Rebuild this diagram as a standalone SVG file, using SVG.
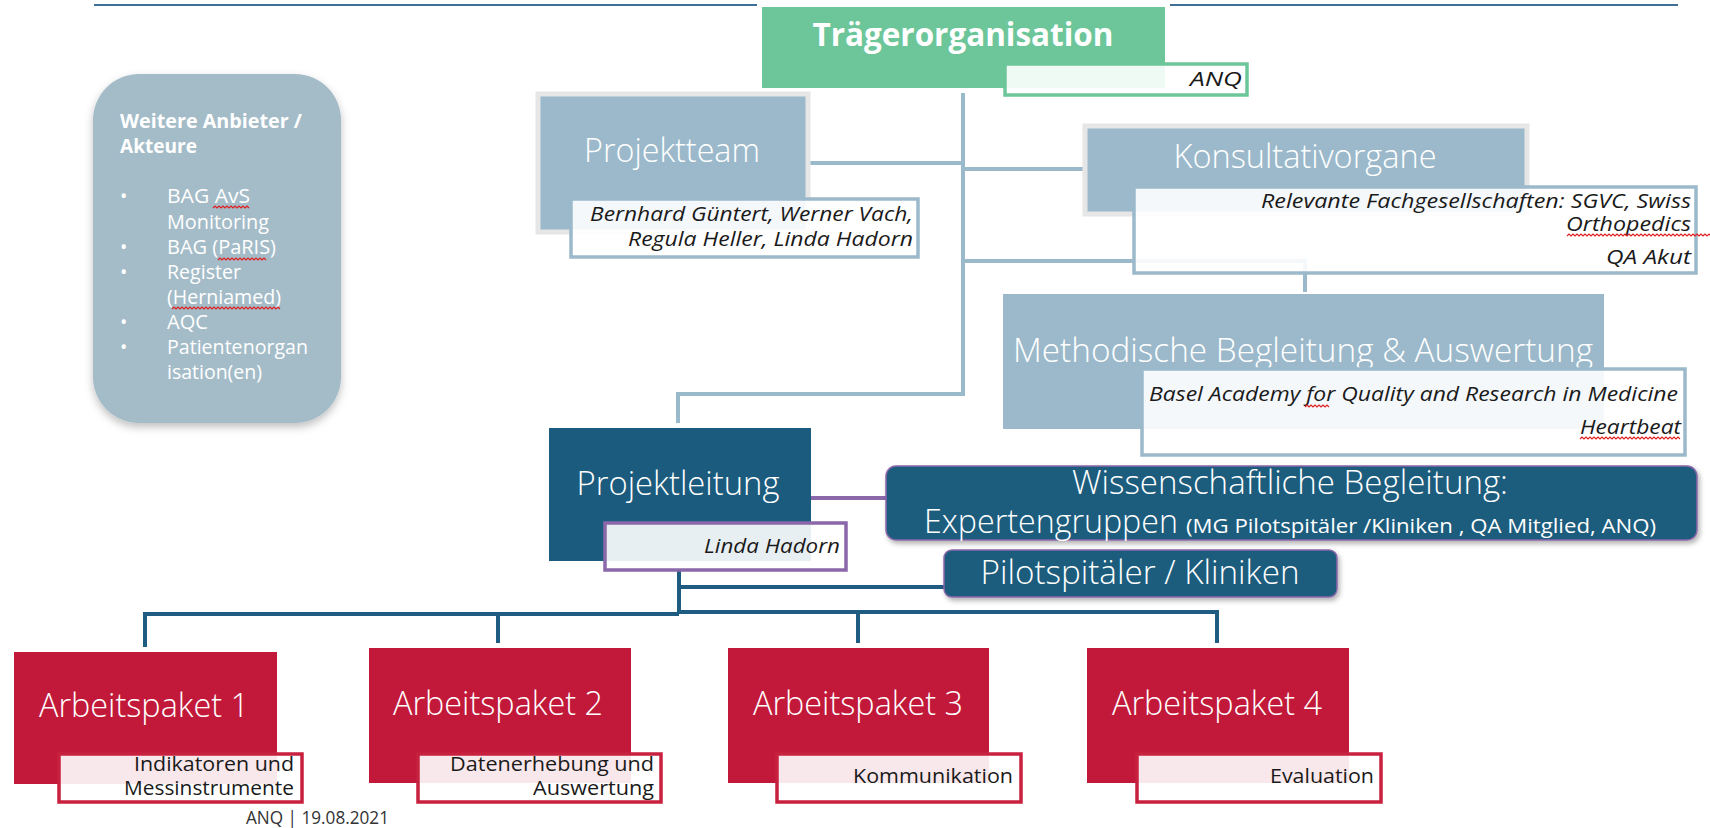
<svg xmlns="http://www.w3.org/2000/svg" width="1710" height="828" viewBox="0 0 1710 828">
<defs>
<style>
.t{font-family:"Open Sans","Noto Sans","Liberation Sans",sans-serif;}
.big{font-family:"Open Sans","Noto Sans","Liberation Sans",sans-serif;font-size:33px;font-weight:300;fill:#ffffff;}
.it{font-family:"Open Sans","Noto Sans","Liberation Sans",sans-serif;font-size:20px;font-style:italic;fill:#1a1a1a;text-anchor:end;}
.sm{font-family:"Open Sans","Noto Sans","Liberation Sans",sans-serif;font-size:20px;fill:#1a1a1a;text-anchor:end;}
.wt{font-family:"Open Sans","Noto Sans","Liberation Sans",sans-serif;font-size:19.5px;fill:#ffffff;}
.lc{fill:none;stroke:#9ab9cb;stroke-width:4;}
.dc{fill:none;stroke:#1e5c82;stroke-width:4;}
.pc{fill:none;stroke:#8a68aa;stroke-width:4;}
.sub{fill:#ffffff;fill-opacity:0.9;stroke-width:3.5;}
.ap{fill:#c2193a;}
.aps{fill:#ffffff;fill-opacity:0.9;stroke:#c8203f;stroke-width:3.5;}
.sq{fill:none;stroke:#e02020;stroke-width:1.2;}
</style>
<filter id="sh" x="-10%" y="-10%" width="120%" height="130%">
<feDropShadow dx="0" dy="4" stdDeviation="4" flood-color="#000000" flood-opacity="0.25"/>
</filter>
<filter id="sh2" x="-5%" y="-10%" width="110%" height="130%">
<feDropShadow dx="2" dy="3" stdDeviation="2.5" flood-color="#000000" flood-opacity="0.3"/>
</filter>
</defs>
<rect width="1710" height="828" fill="#ffffff"/>

<g id="toplines">
<line x1="94" y1="5" x2="757" y2="5" stroke="#3f6f94" stroke-width="2"/>
<line x1="1170" y1="5" x2="1678" y2="5" stroke="#3f6f94" stroke-width="2"/>
</g>

<g id="connectors">
<path class="lc" d="M963 93 V394 H678 V423"/>
<path class="lc" d="M809 163 H963"/>
<path class="lc" d="M963 169 H1083"/>
<path class="lc" d="M963 261 H1305 V292"/>
<path class="pc" d="M811 498 H886"/>
<path class="dc" d="M679 570 V614"/>
<path class="dc" d="M679 587 H944"/>
<path class="dc" d="M145 647 V614 H679"/>
<path class="dc" d="M679 612 H1217 V643"/>
<path class="dc" d="M498 643 V612"/>
<path class="dc" d="M858 643 V612"/>
</g>

<g id="weitere">
<rect x="93" y="74" width="248" height="349" rx="46" ry="46" fill="#a4bcc8" filter="url(#sh)"/>
<text class="t" x="120" y="128" font-size="19" font-weight="700" fill="#ffffff" textLength="182" lengthAdjust="spacingAndGlyphs">Weitere Anbieter /</text>
<text class="t" x="120" y="153" font-size="19" font-weight="700" fill="#ffffff" textLength="77" lengthAdjust="spacingAndGlyphs">Akteure</text>
<g class="wt">
<text x="120" y="203">•</text><text x="167" y="203" textLength="83" lengthAdjust="spacingAndGlyphs">BAG AvS</text>
<text x="167" y="229" textLength="102" lengthAdjust="spacingAndGlyphs">Monitoring</text>
<text x="120" y="254">•</text><text x="167" y="254" textLength="109" lengthAdjust="spacingAndGlyphs">BAG (PaRIS)</text>
<text x="120" y="279">•</text><text x="167" y="279" textLength="74" lengthAdjust="spacingAndGlyphs">Register</text>
<text x="167" y="304" textLength="114" lengthAdjust="spacingAndGlyphs">(Herniamed)</text>
<text x="120" y="329">•</text><text x="167" y="329" textLength="41" lengthAdjust="spacingAndGlyphs">AQC</text>
<text x="120" y="354">•</text><text x="167" y="354" textLength="141" lengthAdjust="spacingAndGlyphs">Patientenorgan</text>
<text x="167" y="379" textLength="95" lengthAdjust="spacingAndGlyphs">isation(en)</text>
</g>
<path class="sq" d="M213 208 l2 -2 l2 2 l2 -2 l2 2 l2 -2 l2 2 l2 -2 l2 2 l2 -2 l2 2 l2 -2 l2 2 l2 -2 l2 2 l2 -2 l2 2 l2 -2 l2 2"/>
<path class="sq" d="M218 260 l2 -2 l2 2 l2 -2 l2 2 l2 -2 l2 2 l2 -2 l2 2 l2 -2 l2 2 l2 -2 l2 2 l2 -2 l2 2 l2 -2 l2 2 l2 -2 l2 2 l2 -2 l2 2 l2 -2 l2 2 l2 -2 l2 2"/>
<path class="sq" d="M172 309 l2 -2 l2 2 l2 -2 l2 2 l2 -2 l2 2 l2 -2 l2 2 l2 -2 l2 2 l2 -2 l2 2 l2 -2 l2 2 l2 -2 l2 2 l2 -2 l2 2 l2 -2 l2 2 l2 -2 l2 2 l2 -2 l2 2 l2 -2 l2 2 l2 -2 l2 2 l2 -2 l2 2 l2 -2 l2 2 l2 -2 l2 2 l2 -2 l2 2 l2 -2 l2 2 l2 -2 l2 2 l2 -2 l2 2 l2 -2 l2 2 l2 -2 l2 2 l2 -2 l2 2 l2 -2 l2 2 l2 -2 l2 2 l2 -2 l2 2"/>
</g>

<g id="traeger">
<rect x="762" y="7" width="403" height="81" fill="#6cc69a"/>
<text class="t" x="963" y="46" font-size="32" font-weight="700" fill="#ffffff" text-anchor="middle" textLength="301" lengthAdjust="spacingAndGlyphs">Trägerorganisation</text>
<rect class="sub" x="1005" y="64" width="242" height="31" stroke="#6cc69a"/>
<text class="it" x="1242" y="86" textLength="52" lengthAdjust="spacingAndGlyphs">ANQ</text>
</g>

<g id="projektteam">
<rect x="538" y="94" width="270" height="138" fill="#9bb9ca" stroke="#e6e6e6" stroke-width="5"/>
<text class="big" x="672" y="162" text-anchor="middle" textLength="176" lengthAdjust="spacingAndGlyphs">Projektteam</text>
<rect class="sub" x="571" y="199" width="347" height="58" stroke="#9bb9ca"/>
<text class="it" x="913" y="221" textLength="323" lengthAdjust="spacingAndGlyphs">Bernhard Güntert, Werner Vach,</text>
<text class="it" x="913" y="246" textLength="285" lengthAdjust="spacingAndGlyphs">Regula Heller, Linda Hadorn</text>
</g>

<g id="konsultativ">
<rect x="1085" y="126" width="442" height="88" fill="#9bb9ca" stroke="#e6e6e6" stroke-width="5"/>
<text class="big" x="1305" y="168" text-anchor="middle" textLength="263" lengthAdjust="spacingAndGlyphs">Konsultativorgane</text>
<rect class="sub" x="1134" y="187" width="562" height="86" stroke="#9bb9ca"/>
<text class="it" x="1691" y="208" textLength="430" lengthAdjust="spacingAndGlyphs">Relevante Fachgesellschaften: SGVC, Swiss</text>
<text class="it" x="1691" y="231" textLength="125" lengthAdjust="spacingAndGlyphs">Orthopedics</text>
<text class="it" x="1691" y="264" textLength="85" lengthAdjust="spacingAndGlyphs">QA Akut</text>
<path class="sq" d="M1567 236 l2 -2 l2 2 l2 -2 l2 2 l2 -2 l2 2 l2 -2 l2 2 l2 -2 l2 2 l2 -2 l2 2 l2 -2 l2 2 l2 -2 l2 2 l2 -2 l2 2 l2 -2 l2 2 l2 -2 l2 2 l2 -2 l2 2 l2 -2 l2 2 l2 -2 l2 2 l2 -2 l2 2 l2 -2 l2 2 l2 -2 l2 2 l2 -2 l2 2 l2 -2 l2 2 l2 -2 l2 2 l2 -2 l2 2 l2 -2 l2 2 l2 -2 l2 2 l2 -2 l2 2 l2 -2 l2 2 l2 -2 l2 2 l2 -2 l2 2 l2 -2 l2 2 l2 -2 l2 2 l2 -2 l2 2 l2 -2 l2 2 l2 -2 l2 2 l2 -2 l2 2 l2 -2 l2 2 l2 -2 l2 2 l2 -2 l2 2"/>
</g>

<g id="methodisch">
<rect x="1003" y="294" width="601" height="135" fill="#9bb9ca"/>
<text class="big" x="1013" y="362" textLength="580" lengthAdjust="spacingAndGlyphs">Methodische Begleitung &amp; Auswertung</text>
<rect class="sub" x="1142" y="369" width="543" height="86" stroke="#9bb9ca"/>
<text class="it" x="1678" y="401" textLength="529" lengthAdjust="spacingAndGlyphs">Basel Academy for Quality and Research in Medicine</text>
<text class="it" x="1681" y="434" textLength="101" lengthAdjust="spacingAndGlyphs">Heartbeat</text>
<path class="sq" d="M1305 407 l2 -2 l2 2 l2 -2 l2 2 l2 -2 l2 2 l2 -2 l2 2 l2 -2 l2 2 l2 -2 l2 2"/>
<path class="sq" d="M1580 439 l2 -2 l2 2 l2 -2 l2 2 l2 -2 l2 2 l2 -2 l2 2 l2 -2 l2 2 l2 -2 l2 2 l2 -2 l2 2 l2 -2 l2 2 l2 -2 l2 2 l2 -2 l2 2 l2 -2 l2 2 l2 -2 l2 2 l2 -2 l2 2 l2 -2 l2 2 l2 -2 l2 2 l2 -2 l2 2 l2 -2 l2 2 l2 -2 l2 2 l2 -2 l2 2 l2 -2 l2 2 l2 -2 l2 2 l2 -2 l2 2 l2 -2 l2 2 l2 -2 l2 2 l2 -2 l2 2"/>
</g>

<g id="projektleitung">
<rect x="549" y="428" width="262" height="133" fill="#1b5b7d"/>
<text class="big" x="678" y="495" text-anchor="middle" textLength="203" lengthAdjust="spacingAndGlyphs">Projektleitung</text>
<rect x="605" y="523" width="241" height="47" fill="#ffffff" fill-opacity="0.9" stroke="#8a68aa" stroke-width="3.5"/>
<text class="it" x="840" y="553" textLength="136" lengthAdjust="spacingAndGlyphs">Linda Hadorn</text>
</g>

<g id="wissenschaft">
<rect x="886" y="466" width="811" height="74" rx="10" ry="10" fill="#1b5b7d" stroke="#8a68aa" stroke-width="1.5" filter="url(#sh2)"/>
<text class="big" x="1290" y="494" text-anchor="middle" textLength="436" lengthAdjust="spacingAndGlyphs">Wissenschaftliche Begleitung:</text>
<text class="big" x="924" y="533" textLength="254" lengthAdjust="spacingAndGlyphs">Expertengruppen</text>
<text class="t" x="1186" y="533" font-size="20" fill="#ffffff" textLength="470" lengthAdjust="spacingAndGlyphs">(MG Pilotspitäler /Kliniken , QA Mitglied, ANQ)</text>
</g>

<g id="pilot">
<rect x="944" y="550" width="393" height="47" rx="8" ry="8" fill="#1b5b7d" stroke="#8a68aa" stroke-width="1.5" filter="url(#sh2)"/>
<text class="big" x="1140" y="584" text-anchor="middle" textLength="319" lengthAdjust="spacingAndGlyphs">Pilotspitäler / Kliniken</text>
</g>

<g id="ap1">
<rect class="ap" x="14" y="652" width="263" height="132"/>
<text class="big" x="144" y="717" text-anchor="middle" textLength="210" lengthAdjust="spacingAndGlyphs">Arbeitspaket 1</text>
<rect class="aps" x="59" y="754" width="243" height="48"/>
<text class="sm" x="294" y="771" textLength="160" lengthAdjust="spacingAndGlyphs">Indikatoren und</text>
<text class="sm" x="294" y="795" textLength="170" lengthAdjust="spacingAndGlyphs">Messinstrumente</text>
</g>

<g id="ap2">
<rect class="ap" x="369" y="648" width="262" height="135"/>
<text class="big" x="498" y="715" text-anchor="middle" textLength="210" lengthAdjust="spacingAndGlyphs">Arbeitspaket 2</text>
<rect class="aps" x="418" y="754" width="243" height="48"/>
<text class="sm" x="654" y="771" textLength="204" lengthAdjust="spacingAndGlyphs">Datenerhebung und</text>
<text class="sm" x="654" y="795" textLength="121" lengthAdjust="spacingAndGlyphs">Auswertung</text>
</g>

<g id="ap3">
<rect class="ap" x="728" y="648" width="261" height="135"/>
<text class="big" x="858" y="715" text-anchor="middle" textLength="210" lengthAdjust="spacingAndGlyphs">Arbeitspaket 3</text>
<rect class="aps" x="777" y="754" width="244" height="48"/>
<text class="sm" x="1013" y="783" textLength="160" lengthAdjust="spacingAndGlyphs">Kommunikation</text>
</g>

<g id="ap4">
<rect class="ap" x="1087" y="648" width="262" height="135"/>
<text class="big" x="1217" y="715" text-anchor="middle" textLength="210" lengthAdjust="spacingAndGlyphs">Arbeitspaket 4</text>
<rect class="aps" x="1137" y="754" width="244" height="48"/>
<text class="sm" x="1374" y="783" textLength="104" lengthAdjust="spacingAndGlyphs">Evaluation</text>
</g>

<g id="footer">
<text class="t" x="246" y="824" font-size="17.5" fill="#333333" textLength="143" lengthAdjust="spacingAndGlyphs">ANQ | 19.08.2021</text>
</g>
</svg>
